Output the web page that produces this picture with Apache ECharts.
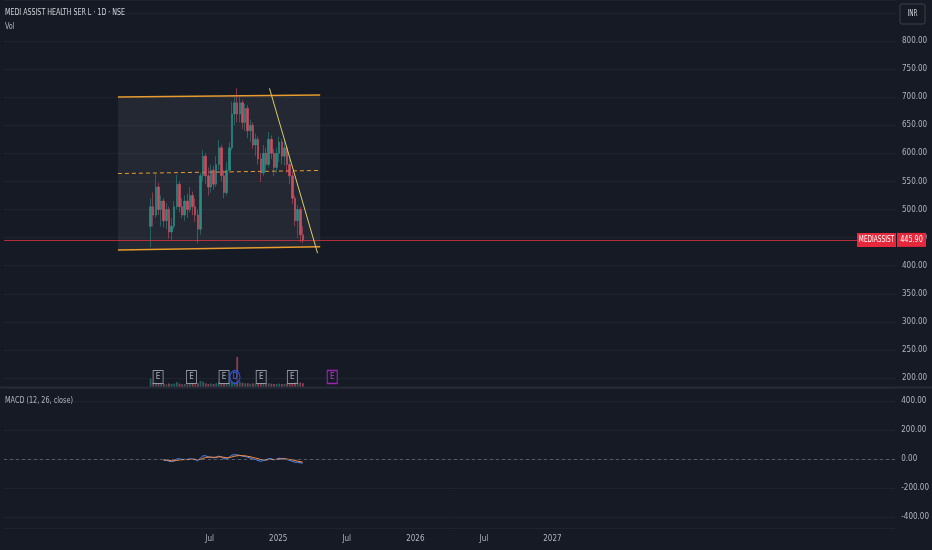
<!DOCTYPE html>
<html>
<head>
<meta charset="utf-8">
<script src="https://cdn.jsdelivr.net/npm/echarts@6.0.0/dist/echarts.min.js"></script>
<style>
html,body{margin:0;padding:0;background:#161a25;}
#chart{width:932px;height:550px;}
</style>
</head>
<body>
<div id="chart"></div>
<script>
// ---------- data ----------
const weeks = ['2024-01-26','2024-02-02','2024-02-09','2024-02-16','2024-02-23','2024-03-01','2024-03-08','2024-03-15','2024-03-22','2024-03-29',
'2024-04-05','2024-04-12','2024-04-19','2024-04-26','2024-05-03','2024-05-10','2024-05-17','2024-05-24','2024-05-31','2024-06-07',
'2024-06-14','2024-06-21','2024-06-28','2024-07-05','2024-07-12','2024-07-19','2024-07-26','2024-08-02','2024-08-09','2024-08-16',
'2024-08-23','2024-08-30','2024-09-06','2024-09-13','2024-09-20','2024-09-27','2024-10-04','2024-10-11','2024-10-18','2024-10-25',
'2024-11-01','2024-11-08','2024-11-15','2024-11-22','2024-11-29','2024-12-06','2024-12-13','2024-12-20','2024-12-27','2025-01-03',
'2025-01-10','2025-01-17','2025-01-24','2025-01-31','2025-02-07','2025-02-14','2025-02-21','2025-02-28','2025-03-07'];
const opens  = [470,505,490,540,500,515,480,500,460,470,505,545,505,490,515,500,525,505,490,465,560,595,560,540,570,545,580,610,560,530,570,610,670,690,670,690,655,680,640,650,615,625,590,565,600,580,625,600,575,600,620,595,610,580,560,520,480,500,455];
const closes = [505,490,540,500,515,480,500,460,470,505,545,505,490,515,500,525,505,490,465,560,595,560,540,570,545,580,610,560,530,570,610,670,690,670,690,655,680,640,650,615,625,590,565,600,580,625,600,575,600,620,595,610,580,560,520,480,500,455,445.9];
const lows   = [433,470,485,490,470,468,465,448,446,465,500,495,485,480,485,495,490,478,440,455,550,545,525,530,535,540,570,550,520,525,565,605,650,655,655,643,640,627,620,608,595,580,549,560,570,575,590,560,565,585,580,578,565,545,510,470,449,442,440];
const highs  = [520,530,565,548,525,520,512,505,485,515,562,550,520,525,528,540,532,520,500,565,606,600,575,580,578,595,624,615,570,585,620,692,700,716,700,695,688,686,660,655,635,630,600,615,610,638,632,608,610,630,626,624,615,590,568,525,508,505,470];
const volumes = [2.2,1.2,1.4,0.9,0.8,0.9,0.7,0.9,0.8,0.9,1.3,0.9,0.7,0.8,0.7,0.9,0.8,0.7,1.0,1.6,1.4,1.0,0.8,0.9,0.8,1.0,1.3,1.0,0.9,1.0,1.2,1.5,1.3,8.0,1.4,1.1,1.0,1.0,0.9,1.0,0.9,0.9,1.1,1.0,0.8,1.0,0.9,0.8,0.8,0.9,0.8,0.8,0.9,1.0,1.2,1.4,1.1,1.2,1.0];
const macdLine = [null,null,null,null,null,-10,-8,-15,-18,-12,0,2,-3,-2,-3,1,0,-4,-12,5,22,22,15,12,8,12,20,14,2,2,12,26,30,28,26,20,18,12,8,0,-3,-10,-16,-10,-8,3,2,-6,-2,6,3,4,-4,-10,-15,-22,-22,-26,-28];
const signalLine = [null,null,null,null,null,-6,-7,-9,-12,-13,-10,-7,-5,-4,-4,-3,-2,-2,-5,-3,4,10,13,13,12,12,14,15,12,9,9,14,19,22,24,23,22,19,16,11,7,2,-3,-5,-6,-4,-3,-3,-3,-1,0,1,0,-3,-6,-10,-14,-18,-21];
const earningsDates = ['2024-02-15','2024-05-14','2024-08-09','2024-11-16','2025-02-07'];
const upcomingEarnings = ['2025-05-24'];
const dividendDates = ['2024-09-07'];
const channelTop    = [['2023-10-31',700.4],['2025-04-22',704.0]];
const channelMid    = [['2023-10-31',564.0],['2025-04-22',569.5]];
const channelBottom = [['2023-10-31',428.0],['2025-04-22',433.5]];
const trendLine     = [['2024-12-08',715.8],['2025-04-15',422.2]];
const lastPrice = 445.90;
const symbolName = 'MEDIASSIST';
const titleText = 'MEDI ASSIST HEALTH SER L · 1D · NSE';
const volTitle = 'Vol';
const macdTitle = 'MACD (12, 26, close)';
const currency = 'INR';

// ---------- helpers ----------
function ty(s){
  const p = s.split('-').map(Number);
  const a = Date.UTC(p[0],0,1), b = Date.UTC(p[0]+1,0,1);
  return p[0] + (Date.UTC(p[0],p[1]-1,p[2]) - a)/(b - a);
}
const FONT = "'DejaVu Sans Condensed','Liberation Sans Narrow',sans-serif";
const UP = '#2a9d8f', DOWN = '#e0566a';
const GRID_C = '#1f2330';
const LBL_C = '#b2b5be';

const candleData = weeks.map((w,i)=>[ty(w), opens[i], closes[i], lows[i], highs[i]]);
const volData = weeks.map((w,i)=>({value:[ty(w), volumes[i]], itemStyle:{color: closes[i]>=opens[i] ? 'rgba(42,157,143,0.55)' : 'rgba(224,86,106,0.6)'}}));
const macdData = weeks.map((w,i)=>[ty(w), macdLine[i]]);
const sigData = weeks.map((w,i)=>[ty(w), signalLine[i]]);
const seg = arr => arr.map(p=>[ty(p[0]), p[1]]);

const markerData = []
  .concat(earningsDates.map(d=>({value:[ty(d),0.5], symbol:'rect', symbolSize:[10,13], itemStyle:{color:'#161a25',borderColor:'#b2b5be',borderWidth:1}, label:{formatter:'E',color:'#d1d4dc'}})))
  .concat(upcomingEarnings.map(d=>({value:[ty(d),0.5], symbol:'rect', symbolSize:[10,13], itemStyle:{color:'#161a25',borderColor:'#c026d3',borderWidth:1.2}, label:{formatter:'E',color:'#d946ef'}})))
  .concat(dividendDates.map(d=>({value:[ty(d),0.5], symbol:'circle', symbolSize:[10,13], itemStyle:{color:'rgba(22,26,37,0.6)',borderColor:'#2962ff',borderWidth:1.2}, label:{formatter:'D',color:'#4d7dff'}})));

const X_MIN = 2023, X_MAX = 2029.5;
const GL = 4, GR = 36;
function xAx(idx, show){
  return {type:'value', gridIndex:idx, min:X_MIN, max:X_MAX, interval:0.5,
    axisLine:{show:false}, axisTick:{show:false}, splitLine:{show:false},
    axisLabel: show ? {show:true, color:LBL_C, fontSize:8, fontFamily:FONT, margin:7,
      formatter: v => (v < 2024.4 || v > 2027.1) ? '' : (Number.isInteger(v) ? String(v) : 'Jul')} : {show:false}};
}

const chart = echarts.init(document.getElementById('chart'), null, {renderer:'canvas'});
const option = {
  backgroundColor:'#161a25',
  animation:false,
  grid:[
    {left:GL, right:GR, top:0, height:387},
    {left:GL, right:GR, top:355, height:32},
    {left:GL, right:GR, top:369, height:16},
    {left:GL, right:GR, top:388, height:140}
  ],
  xAxis:[xAx(0,false), xAx(1,false), xAx(2,false), xAx(3,true)],
  yAxis:[
    {type:'value', gridIndex:0, position:'right', min:184, max:873, splitNumber:14,
      axisLine:{show:false}, axisTick:{show:false},
      splitLine:{show:true, lineStyle:{color:GRID_C, width:1}},
      axisLabel:{color:LBL_C, fontSize:8, fontFamily:FONT, margin:6, showMinLabel:false, showMaxLabel:false,
        formatter:v=> v > 820 ? '' : v.toFixed(2)}},
    {type:'value', gridIndex:1, min:0, max:8.5, show:false},
    {type:'value', gridIndex:2, min:0, max:1, show:false},
    {type:'value', gridIndex:3, position:'right', min:-476, max:490, splitNumber:5,
      axisLine:{show:false}, axisTick:{show:false},
      splitLine:{show:true, lineStyle:{color:GRID_C, width:1}},
      axisLabel:{color:LBL_C, fontSize:8, fontFamily:FONT, margin:6, showMinLabel:false, showMaxLabel:false, formatter:v=>v.toFixed(2)}}
  ],
  series:[
    {type:'custom', xAxisIndex:0, yAxisIndex:0, silent:true, z:1,
      data:[[ty(channelTop[0][0]), channelTop[0][1]]],
      renderItem:(params, api)=>{
        const t = seg(channelTop), b = seg(channelBottom);
        return {type:'polygon', shape:{points:[api.coord(t[0]), api.coord(t[1]), api.coord(b[1]), api.coord(b[0])]},
          style:{fill:'rgba(140,145,160,0.12)'}};
      }},
    {type:'line', xAxisIndex:0, yAxisIndex:0, data:seg(channelTop), symbol:'none', silent:true, z:3, lineStyle:{color:'#e89b2e', width:1.5}},
    {type:'line', xAxisIndex:0, yAxisIndex:0, data:seg(channelBottom), symbol:'none', silent:true, z:3, lineStyle:{color:'#e89b2e', width:1.5}},
    {type:'line', xAxisIndex:0, yAxisIndex:0, data:seg(channelMid), symbol:'none', silent:true, z:3, lineStyle:{color:'#e89b2e', width:1, type:[4,3]}},
    {type:'candlestick', xAxisIndex:0, yAxisIndex:0, data:candleData, encode:{x:0, y:[1,2,3,4]}, barWidth:2, z:4,
      itemStyle:{color:UP, color0:DOWN, borderColor:UP, borderColor0:DOWN, borderWidth:0.6, opacity:0.85},
      markLine:{silent:true, symbol:['none','none'], label:{show:false},
        lineStyle:{color:'rgba(242,54,69,0.7)', width:1, type:'solid'},
        data:[{yAxis:lastPrice}]}},
    {type:'line', xAxisIndex:0, yAxisIndex:0, data:seg(trendLine), symbol:'none', silent:true, z:5, lineStyle:{color:'#dccd63', width:1}},
    {type:'bar', xAxisIndex:1, yAxisIndex:1, data:volData, barWidth:1.8, silent:true},
    {type:'scatter', xAxisIndex:2, yAxisIndex:2, data:markerData, silent:true, z:6,
      label:{show:true, position:'inside', fontSize:8, fontFamily:FONT}},
    {type:'line', xAxisIndex:3, yAxisIndex:3, data:macdData, symbol:'none', silent:true,
      lineStyle:{color:'#4d8dff', width:1},
      markLine:{silent:true, symbol:['none','none'], label:{show:false}, lineStyle:{color:'#555a66', width:1, type:[3,3]}, data:[{yAxis:0}]}},
    {type:'line', xAxisIndex:3, yAxisIndex:3, data:sigData, symbol:'none', silent:true, lineStyle:{color:'#ff8a3d', width:1}}
  ]
};
chart.setOption(option);

// overlay texts; price label placed through the y-axis scale
const py = chart.convertToPixel({yAxisIndex:0}, lastPrice);
const Z = 100;
chart.setOption({graphic:[
  {type:'line', z:Z, shape:{x1:0, y1:387.5, x2:932, y2:387.5}, style:{stroke:'#262a36', lineWidth:2}, silent:true},
  {type:'text', z:Z, x:5, y:13, scaleX:0.78, style:{text:titleText, fill:'#d1d4dc', font:'9px '+FONT, align:'left', verticalAlign:'middle'}, silent:true},
  {type:'text', z:Z, x:5, y:27, scaleX:0.8, style:{text:volTitle, fill:LBL_C, font:'9px '+FONT, align:'left', verticalAlign:'middle'}, silent:true},
  {type:'text', z:Z, x:5, y:401, scaleX:0.8, style:{text:macdTitle, fill:LBL_C, font:'9px '+FONT, align:'left', verticalAlign:'middle'}, silent:true},
  {type:'rect', z:Z, shape:{x:857, y:py-7, width:39, height:14}, style:{fill:'#e5283b'}, silent:true},
  {type:'text', z:Z+1, x:876.5, y:py, scaleX:0.72, style:{text:symbolName, fill:'#ffffff', font:'9px '+FONT, align:'center', verticalAlign:'middle'}, silent:true},
  {type:'rect', z:Z, shape:{x:897, y:py-7, width:29, height:14}, style:{fill:'#e5283b'}, silent:true},
  {type:'text', z:Z+1, x:911.5, y:py, scaleX:0.8, style:{text:lastPrice.toFixed(2), fill:'#ffffff', font:'9px '+FONT, align:'center', verticalAlign:'middle'}, silent:true},
  {type:'rect', z:Z, shape:{x:900, y:4, width:25, height:20, r:2}, style:{fill:'#161a25', stroke:'#3a3e4a', lineWidth:1}, silent:true},
  {type:'text', z:Z+1, x:912.5, y:14, scaleX:0.8, style:{text:currency, fill:'#d1d4dc', font:'8px '+FONT, align:'center', verticalAlign:'middle'}, silent:true}
]});
</script>
</body>
</html>
